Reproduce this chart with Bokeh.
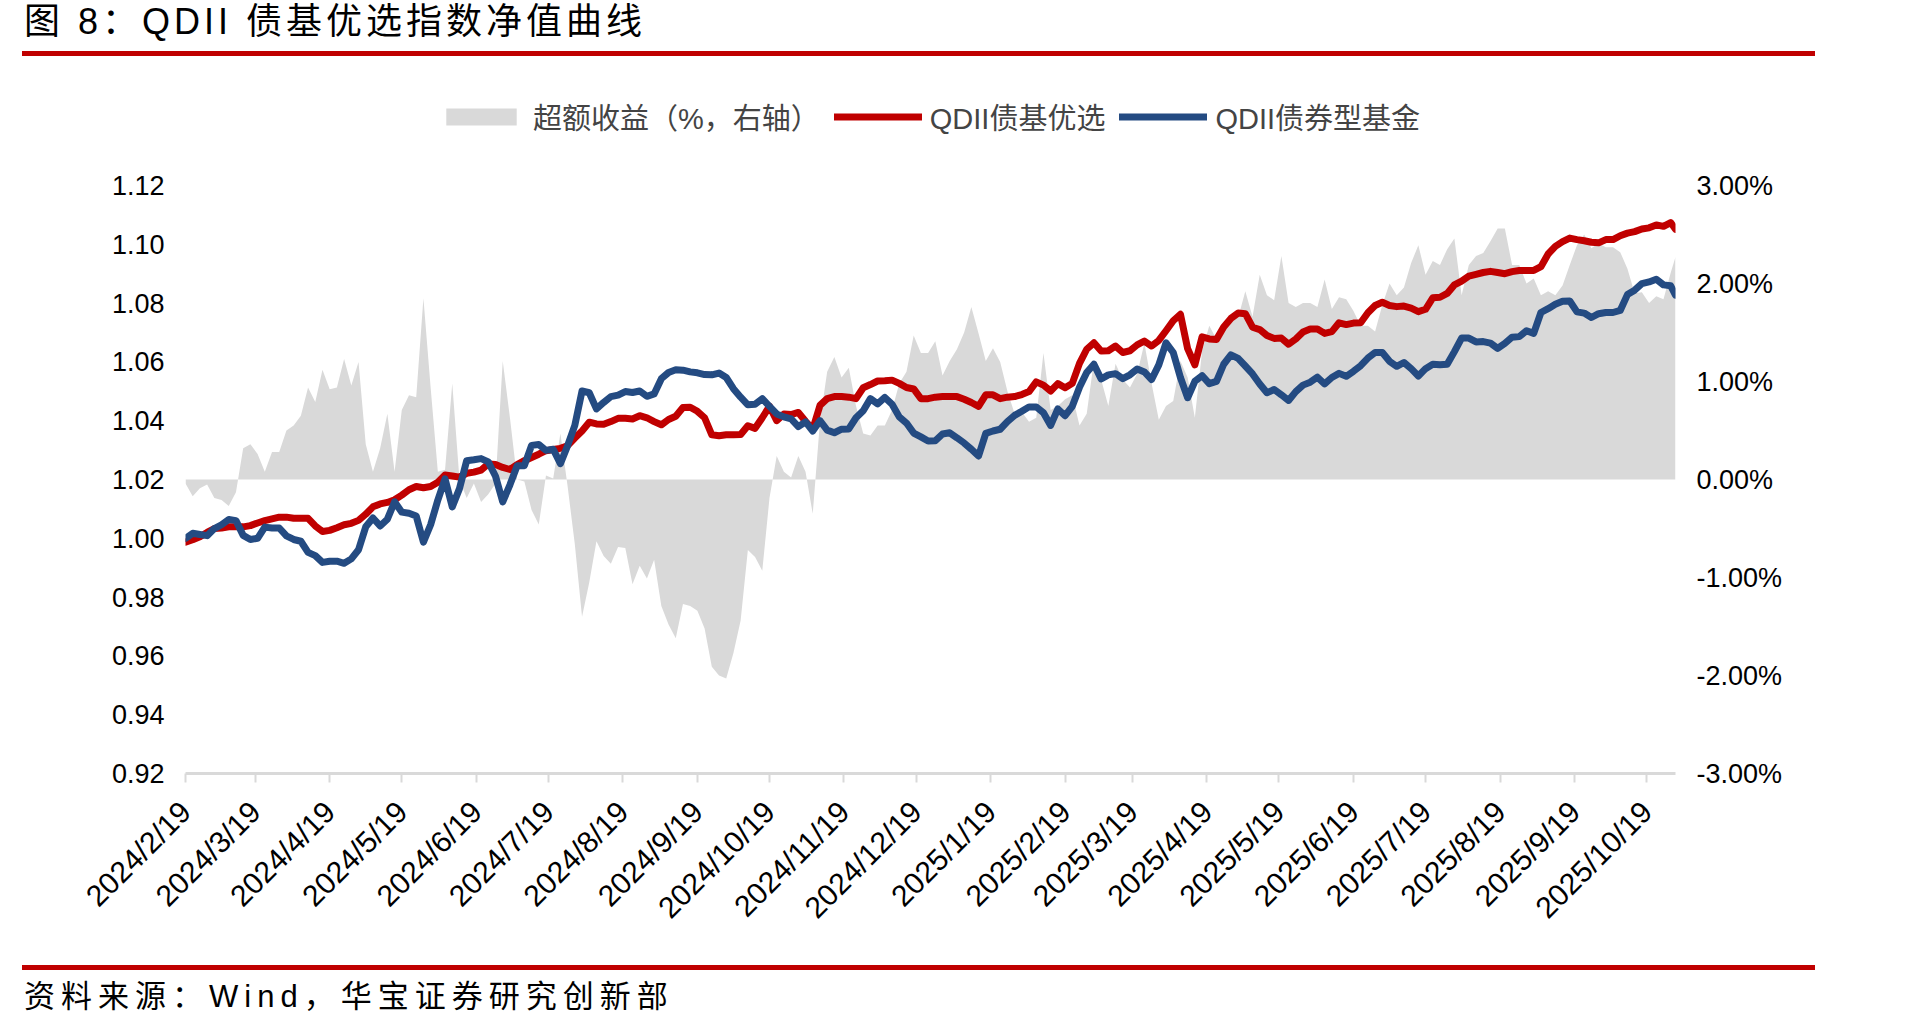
import math
import pandas as pd
from bokeh.plotting import figure
from bokeh.models import (Range1d, LinearAxis, FixedTicker, Legend, LegendItem,
                          ColumnDataSource, Div, PrintfTickFormatter)
from bokeh.layouts import column
from bokeh.embed import file_html
from bokeh.resources import INLINE

# ---------------- data ----------------
dates = [
    "2024-02-19", "2024-02-22", "2024-02-25", "2024-02-28", "2024-03-02", "2024-03-05", "2024-03-08", "2024-03-11", "2024-03-14", "2024-03-17",
    "2024-03-20", "2024-03-23", "2024-03-26", "2024-03-29", "2024-04-01", "2024-04-04", "2024-04-07", "2024-04-10", "2024-04-13", "2024-04-16",
    "2024-04-19", "2024-04-22", "2024-04-25", "2024-04-28", "2024-05-01", "2024-05-04", "2024-05-07", "2024-05-10", "2024-05-13", "2024-05-16",
    "2024-05-19", "2024-05-22", "2024-05-25", "2024-05-28", "2024-05-31", "2024-06-03", "2024-06-06", "2024-06-09", "2024-06-12", "2024-06-15",
    "2024-06-18", "2024-06-21", "2024-06-24", "2024-06-27", "2024-06-30", "2024-07-03", "2024-07-06", "2024-07-09", "2024-07-12", "2024-07-15",
    "2024-07-18", "2024-07-21", "2024-07-24", "2024-07-27", "2024-07-30", "2024-08-02", "2024-08-05", "2024-08-08", "2024-08-11", "2024-08-14",
    "2024-08-17", "2024-08-20", "2024-08-23", "2024-08-26", "2024-08-29", "2024-09-01", "2024-09-04", "2024-09-07", "2024-09-10", "2024-09-13",
    "2024-09-16", "2024-09-19", "2024-09-22", "2024-09-25", "2024-09-28", "2024-10-01", "2024-10-04", "2024-10-07", "2024-10-10", "2024-10-13",
    "2024-10-16", "2024-10-19", "2024-10-22", "2024-10-25", "2024-10-28", "2024-10-31", "2024-11-03", "2024-11-06", "2024-11-09", "2024-11-12",
    "2024-11-15", "2024-11-18", "2024-11-21", "2024-11-24", "2024-11-27", "2024-11-30", "2024-12-03", "2024-12-06", "2024-12-09", "2024-12-12",
    "2024-12-15", "2024-12-18", "2024-12-21", "2024-12-24", "2024-12-27", "2024-12-30", "2025-01-02", "2025-01-05", "2025-01-08", "2025-01-11",
    "2025-01-14", "2025-01-17", "2025-01-20", "2025-01-23", "2025-01-26", "2025-01-29", "2025-02-01", "2025-02-04", "2025-02-07", "2025-02-10",
    "2025-02-13", "2025-02-16", "2025-02-19", "2025-02-22", "2025-02-25", "2025-02-28", "2025-03-03", "2025-03-06", "2025-03-09", "2025-03-12",
    "2025-03-15", "2025-03-18", "2025-03-21", "2025-03-24", "2025-03-27", "2025-03-30", "2025-04-02", "2025-04-05", "2025-04-08", "2025-04-11",
    "2025-04-14", "2025-04-17", "2025-04-20", "2025-04-23", "2025-04-26", "2025-04-29", "2025-05-02", "2025-05-05", "2025-05-08", "2025-05-11",
    "2025-05-14", "2025-05-17", "2025-05-20", "2025-05-23", "2025-05-26", "2025-05-29", "2025-06-01", "2025-06-04", "2025-06-07", "2025-06-10",
    "2025-06-13", "2025-06-16", "2025-06-19", "2025-06-22", "2025-06-25", "2025-06-28", "2025-07-01", "2025-07-04", "2025-07-07", "2025-07-10",
    "2025-07-13", "2025-07-16", "2025-07-19", "2025-07-22", "2025-07-25", "2025-07-28", "2025-07-31", "2025-08-03", "2025-08-06", "2025-08-09",
    "2025-08-12", "2025-08-15", "2025-08-18", "2025-08-21", "2025-08-24", "2025-08-27", "2025-08-30", "2025-09-02", "2025-09-05", "2025-09-08",
    "2025-09-11", "2025-09-14", "2025-09-17", "2025-09-20", "2025-09-23", "2025-09-26", "2025-09-29", "2025-10-02", "2025-10-05", "2025-10-08",
    "2025-10-11", "2025-10-14", "2025-10-17", "2025-10-20", "2025-10-23", "2025-10-26", "2025-10-29", "2025-10-31",
]

qdii_select = [  # QDII债基优选 (left axis)
    0.9987, 0.9995, 1.0005, 1.0020, 1.0033, 1.0035, 1.0039, 1.0039, 1.0039, 1.0043,
    1.0052, 1.0060, 1.0066, 1.0072, 1.0072, 1.0068, 1.0068, 1.0068, 1.0042, 1.0023,
    1.0027, 1.0036, 1.0046, 1.0051, 1.0061, 1.0082, 1.0107, 1.0117, 1.0122, 1.0131,
    1.0147, 1.0165, 1.0176, 1.0172, 1.0176, 1.0191, 1.0215, 1.0212, 1.0208, 1.0221,
    1.0225, 1.0232, 1.0253, 1.0251, 1.0241, 1.0234, 1.0251, 1.0264, 1.0275, 1.0286,
    1.0298, 1.0302, 1.0306, 1.0315, 1.0341, 1.0365, 1.0395, 1.0389, 1.0388, 1.0397,
    1.0408, 1.0408, 1.0406, 1.0417, 1.0410, 1.0397, 1.0386, 1.0404, 1.0415, 1.0445,
    1.0446, 1.0432, 1.0410, 1.0352, 1.0349, 1.0352, 1.0352, 1.0353, 1.0383, 1.0374,
    1.0410, 1.0449, 1.0400, 1.0423, 1.0421, 1.0428, 1.0398, 1.0371, 1.0452, 1.0475,
    1.0482, 1.0482, 1.0480, 1.0475, 1.0512, 1.0523, 1.0535, 1.0536, 1.0538, 1.0527,
    1.0513, 1.0508, 1.0475, 1.0475, 1.0480, 1.0482, 1.0482, 1.0482, 1.0473, 1.0462,
    1.0449, 1.0488, 1.0488, 1.0475, 1.0480, 1.0482, 1.0489, 1.0499, 1.0532, 1.0521,
    1.0501, 1.0526, 1.0512, 1.0527, 1.0595, 1.0643, 1.0665, 1.0637, 1.0638, 1.0654,
    1.0632, 1.0638, 1.0658, 1.0671, 1.0654, 1.0673, 1.0706, 1.0740, 1.0762, 1.0645,
    1.0590, 1.0685, 1.0678, 1.0676, 1.0719, 1.0748, 1.0766, 1.0764, 1.0718, 1.0710,
    1.0690, 1.0680, 1.0681, 1.0660, 1.0678, 1.0702, 1.0712, 1.0712, 1.0697, 1.0703,
    1.0733, 1.0727, 1.0732, 1.0733, 1.0767, 1.0792, 1.0803, 1.0792, 1.0788, 1.0790,
    1.0783, 1.0771, 1.0779, 1.0818, 1.0820, 1.0833, 1.0862, 1.0875, 1.0892, 1.0898,
    1.0904, 1.0908, 1.0904, 1.0900, 1.0907, 1.0911, 1.0911, 1.0911, 1.0924, 1.0967,
    1.0993, 1.1009, 1.1021, 1.1016, 1.1012, 1.1007, 1.1005, 1.1016, 1.1016, 1.1029,
    1.1038, 1.1043, 1.1052, 1.1056, 1.1066, 1.1061, 1.1074, 1.1051,
]

qdii_bond_fund = [  # QDII债券型基金 (left axis)
    1.0000, 1.0017, 1.0013, 1.0009, 1.0033, 1.0046, 1.0064, 1.0060, 1.0010, 0.9996,
    1.0000, 1.0038, 1.0035, 1.0035, 1.0008, 0.9996, 0.9990, 0.9952, 0.9941, 0.9918,
    0.9922, 0.9922, 0.9915, 0.9930, 0.9961, 1.0039, 1.0069, 1.0042, 1.0065, 1.0124,
    1.0089, 1.0085, 1.0076, 0.9987, 1.0046, 1.0130, 1.0202, 1.0107, 1.0169, 1.0264,
    1.0267, 1.0271, 1.0260, 1.0211, 1.0124, 1.0182, 1.0247, 1.0247, 1.0316, 1.0319,
    1.0299, 1.0303, 1.0254, 1.0315, 1.0384, 1.0501, 1.0495, 1.0440, 1.0462, 1.0482,
    1.0487, 1.0499, 1.0496, 1.0501, 1.0483, 1.0491, 1.0543, 1.0564, 1.0573, 1.0572,
    1.0566, 1.0563, 1.0557, 1.0556, 1.0562, 1.0547, 1.0509, 1.0480, 1.0454, 1.0456,
    1.0475, 1.0449, 1.0423, 1.0413, 1.0406, 1.0380, 1.0396, 1.0365, 1.0400, 1.0368,
    1.0359, 1.0371, 1.0372, 1.0410, 1.0434, 1.0475, 1.0457, 1.0479, 1.0456, 1.0413,
    1.0392, 1.0358, 1.0345, 1.0331, 1.0332, 1.0355, 1.0359, 1.0342, 1.0324, 1.0303,
    1.0280, 1.0357, 1.0365, 1.0371, 1.0397, 1.0418, 1.0432, 1.0447, 1.0447, 1.0427,
    1.0384, 1.0440, 1.0417, 1.0449, 1.0514, 1.0564, 1.0592, 1.0542, 1.0556, 1.0560,
    1.0543, 1.0556, 1.0576, 1.0566, 1.0540, 1.0590, 1.0665, 1.0632, 1.0547, 1.0478,
    1.0534, 1.0553, 1.0526, 1.0534, 1.0592, 1.0624, 1.0612, 1.0586, 1.0559, 1.0525,
    1.0495, 1.0506, 1.0488, 1.0469, 1.0499, 1.0521, 1.0531, 1.0548, 1.0525, 1.0547,
    1.0561, 1.0551, 1.0568, 1.0587, 1.0613, 1.0632, 1.0632, 1.0602, 1.0585, 1.0598,
    1.0577, 1.0552, 1.0577, 1.0592, 1.0590, 1.0592, 1.0635, 1.0681, 1.0681, 1.0668,
    1.0669, 1.0664, 1.0646, 1.0663, 1.0684, 1.0686, 1.0706, 1.0697, 1.0768, 1.0781,
    1.0796, 1.0806, 1.0807, 1.0770, 1.0766, 1.0751, 1.0764, 1.0768, 1.0768, 1.0775,
    1.0829, 1.0844, 1.0866, 1.0872, 1.0881, 1.0862, 1.0859, 1.0827,
]

excess_pct = [  # 超额收益 (%, right axis)
    -0.04, -0.17, -0.09, -0.05, -0.19, -0.21, -0.27, -0.13, 0.32, 0.36,
    0.26, 0.08, 0.28, 0.28, 0.50, 0.55, 0.65, 0.94, 0.79, 1.12,
    0.92, 0.94, 1.23, 0.96, 1.20, 0.36, 0.08, 0.32, 0.67, 0.08,
    0.71, 0.86, 0.84, 1.85, 0.94, 0.08, 0.10, 0.98, 0.00, -0.19,
    -0.04, -0.23, -0.15, -0.04, 1.21, 0.63, 0.00, -0.02, -0.31, -0.46,
    0.04, 0.01, 0.47, -0.07, -0.66, -1.40, -1.05, -0.63, -0.78, -0.86,
    -0.69, -0.70, -1.07, -0.88, -1.01, -0.82, -1.29, -1.48, -1.62, -1.27,
    -1.29, -1.34, -1.52, -1.91, -2.00, -2.03, -1.77, -1.44, -0.72, -0.79,
    -0.93, -0.19, 0.24, 0.08, 0.02, 0.24, 0.08, -0.35, 0.59, 1.10,
    1.25, 1.04, 1.14, 0.75, 0.47, 0.45, 0.55, 0.55, 0.71, 0.98,
    1.10, 1.47, 1.29, 1.29, 1.41, 1.06, 1.21, 1.33, 1.50, 1.76,
    1.49, 1.21, 1.34, 1.20, 0.90, 0.67, 0.69, 0.59, 0.63, 1.29,
    0.71, 0.75, 0.82, 0.86, 0.55, 0.67, 1.21, 1.02, 0.75, 1.18,
    1.02, 0.94, 1.08, 1.39, 0.98, 0.61, 0.75, 0.80, 1.21, 1.04,
    0.63, 1.31, 1.57, 1.43, 1.57, 1.66, 1.65, 1.92, 1.66, 2.09,
    1.88, 1.83, 2.28, 1.80, 1.76, 1.80, 1.80, 1.76, 2.04, 1.74,
    1.86, 1.84, 1.72, 1.57, 1.57, 1.51, 1.78, 2.00, 1.88, 1.96,
    2.21, 2.39, 2.09, 2.23, 2.19, 2.35, 2.46, 1.88, 2.19, 2.28,
    2.31, 2.43, 2.56, 2.56, 2.19, 2.19, 2.00, 2.05, 1.88, 1.92,
    1.88, 1.98, 2.19, 2.39, 2.50, 2.36, 2.41, 2.37, 2.37, 2.32,
    2.15, 1.90, 1.91, 1.80, 1.87, 1.84, 2.11, 2.27,
]

series_names = ["超额收益（%，右轴）", "QDII债基优选", "QDII债券型基金"]
x_tick_labels = ["2024/2/19", "2024/3/19", "2024/4/19", "2024/5/19", "2024/6/19", "2024/7/19",
                 "2024/8/19", "2024/9/19", "2024/10/19", "2024/11/19", "2024/12/19", "2025/1/19",
                 "2025/2/19", "2025/3/19", "2025/4/19", "2025/5/19", "2025/6/19", "2025/7/19",
                 "2025/8/19", "2025/9/19", "2025/10/19"]
left_ticks = [0.92, 0.94, 0.96, 0.98, 1.00, 1.02, 1.04, 1.06, 1.08, 1.10, 1.12]
right_ticks = [-3, -2, -1, 0, 1, 2, 3]
title_text = "图 8：QDII 债基优选指数净值曲线"
source_text = "资料来源：Wind，华宝证券研究创新部"

# ---------------- styling ----------------
RED = "#C00000"
BLUE = "#244B82"
GRAY = "#D9D9D9"
FONT = "Liberation Sans, Noto Sans CJK SC"

EPOCH = pd.Timestamp("1970-01-01")
def to_ms(s):
    return int((pd.Timestamp(s) - EPOCH) // pd.Timedelta(milliseconds=1))

src = ColumnDataSource(data=dict(
    date=pd.to_datetime(dates),
    sel=qdii_select,
    bond=qdii_bond_fund,
    exc=excess_pct,
))

x_start = to_ms(dates[0])
x_end = to_ms(dates[-1])

# The plotting frame reaches up into the legend row (no outline, no grid),
# so that the legend sits inside it; the axes only label 0.92..1.12 / -3%..3%.
FRAME_TOP_PAD = 90      # px of frame above the 1.12 / 3.00% level
AXIS_PX = 588           # px between 0.92 and 1.12
left_lo, left_hi = 0.92, 1.12
right_lo, right_hi = -3.0, 3.0
left_end = left_hi + (left_hi - left_lo) * FRAME_TOP_PAD / AXIS_PX
right_end = right_hi + (right_hi - right_lo) * FRAME_TOP_PAD / AXIS_PX

p = figure(width=1912, height=897, x_axis_type="datetime",
           x_range=Range1d(x_start, x_end), y_range=Range1d(left_lo, left_end),
           output_backend="svg", toolbar_location=None,
           min_border_left=185, min_border_right=237,
           min_border_top=127 - FRAME_TOP_PAD, min_border_bottom=182)
p.extra_y_ranges = {"right": Range1d(right_lo, right_end)}
p.outline_line_color = None
p.grid.visible = False
p.background_fill_color = "white"
p.border_fill_color = "white"

area = p.varea(x="date", y1=0, y2="exc", source=src, fill_color=GRAY, y_range_name="right")
l_sel = p.line(x="date", y="sel", source=src, line_color=RED, line_width=7,
               line_join="round", line_cap="round")
l_bond = p.line(x="date", y="bond", source=src, line_color=BLUE, line_width=7,
                line_join="round", line_cap="round")

# x axis
xt = [to_ms(pd.to_datetime(t, format="%Y/%m/%d")) for t in x_tick_labels]
xa = p.xaxis[0]
xa.ticker = FixedTicker(ticks=xt)
xa.major_label_overrides = {k: v for k, v in zip(xt, x_tick_labels)}
xa.major_label_orientation = math.pi / 4
xa.axis_line_color = GRAY
xa.axis_line_width = 3
xa.major_tick_line_color = GRAY
xa.major_tick_line_width = 2
xa.major_tick_out = 9
xa.major_tick_in = 0
xa.minor_tick_line_color = None
xa.major_label_standoff = 24
xa.major_label_text_font = FONT
xa.major_label_text_font_size = "30px"
xa.major_label_text_color = "black"

# left axis
ya = p.yaxis[0]
ya.ticker = FixedTicker(ticks=left_ticks)
ya.formatter = PrintfTickFormatter(format="%.2f")
ya.axis_line_color = None
ya.major_tick_line_color = None
ya.minor_tick_line_color = None
ya.major_label_standoff = 15
ya.major_label_text_font = FONT
ya.major_label_text_font_size = "27px"
ya.major_label_text_color = "black"

# right axis
ra = LinearAxis(y_range_name="right", ticker=FixedTicker(ticks=right_ticks),
                formatter=PrintfTickFormatter(format="%.2f%%"))
ra.axis_line_color = None
ra.major_tick_line_color = None
ra.minor_tick_line_color = None
ra.major_label_standoff = 15
ra.major_label_text_font = FONT
ra.major_label_text_font_size = "27px"
ra.major_label_text_color = "black"
p.add_layout(ra, "right")

legend = Legend(items=[LegendItem(label=series_names[0], renderers=[area]),
                       LegendItem(label=series_names[1], renderers=[l_sel]),
                       LegendItem(label=series_names[2], renderers=[l_bond])],
                orientation="horizontal", location=(252, 636),
                background_fill_alpha=0, border_line_color=None,
                padding=0, margin=0, spacing=14, label_standoff=8,
                glyph_width=88, glyph_height=21,
                label_text_font=FONT, label_text_font_size="29px", label_height=28)
p.add_layout(legend, "center")

title_div = Div(width=1912, height=58, margin=0, text=(
    '<div style="position:relative;width:1912px;height:58px;">'
    '<span style="position:absolute;left:24px;top:1px;white-space:nowrap;'
    'font-family:\'Liberation Sans\',\'Noto Sans CJK SC\';font-size:36px;line-height:42px;'
    'letter-spacing:4px;color:#000;">' + title_text + '</span>'
    '<div style="position:absolute;left:22px;top:51px;width:1793px;height:5px;background:' + RED + ';"></div>'
    '</div>'))

source_div = Div(width=1912, height=74, margin=0, text=(
    '<div style="position:relative;width:1912px;height:74px;">'
    '<div style="position:absolute;left:22px;top:10px;width:1793px;height:5px;background:' + RED + ';"></div>'
    '<span style="position:absolute;left:24px;top:23px;white-space:nowrap;'
    'font-family:\'Liberation Sans\',\'Noto Sans CJK SC\';font-size:31px;line-height:37px;'
    'letter-spacing:6px;color:#000;">' + source_text + '</span>'
    '</div>'))

layout = column(title_div, p, source_div, spacing=0)
open("out.html", "w").write(file_html(layout, INLINE))
